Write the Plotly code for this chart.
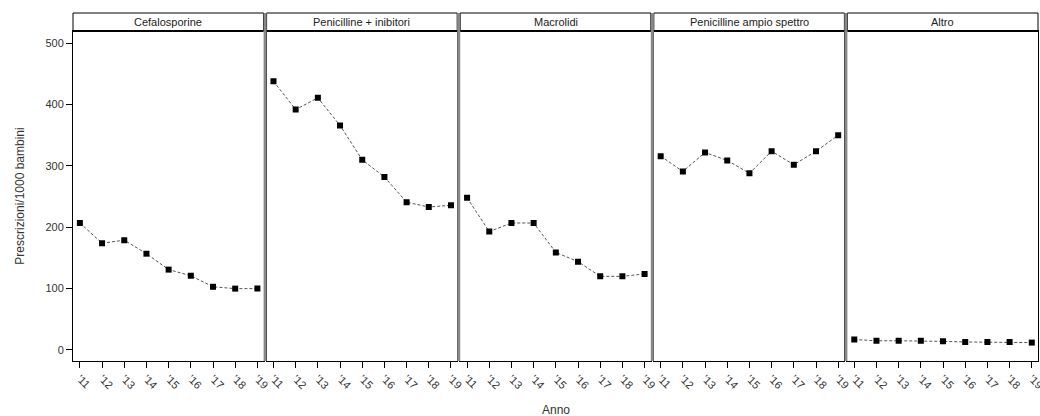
import plotly.graph_objects as go
from plotly.subplots import make_subplots

anni = [2011, 2012, 2013, 2014, 2015, 2016, 2017, 2018, 2019]
etichette_anni = ["'11", "'12", "'13", "'14", "'15", "'16", "'17", "'18", "'19"]

categorie = [
    'Cefalosporine',
    'Penicilline + inibitori',
    'Macrolidi',
    'Penicilline ampio spettro',
    'Altro',
]

cefalosporine = [207, 174, 179, 157, 131, 121, 103, 100, 100]
penicilline_inibitori = [438, 392, 411, 366, 310, 282, 241, 233, 236]
macrolidi = [248, 193, 207, 207, 159, 144, 120, 120, 124]
penicilline_ampio = [316, 291, 322, 309, 288, 324, 302, 324, 350]
altro = [17, 15, 15, 15, 14, 13, 13, 13, 12]

serie = [cefalosporine, penicilline_inibitori, macrolidi, penicilline_ampio, altro]

fig = make_subplots(rows=1, cols=5, shared_yaxes=True, horizontal_spacing=3 / 965)

for i, valori in enumerate(serie):
    fig.add_trace(
        go.Scatter(
            x=anni,
            y=valori,
            mode='lines+markers',
            line=dict(color='#555555', width=1, dash='3px,2px'),
            marker=dict(symbol='square', size=6, color='black'),
            showlegend=False,
        ),
        row=1, col=i + 1
    )

fig.update_xaxes(
    range=[2010.69, 2019.28],
    tickvals=anni,
    ticktext=etichette_anni,
    tickangle=45,
    ticks='outside',
    ticklen=6,
    tickcolor='black',
    showgrid=False,
    zeroline=False,
    showline=True,
    linecolor='black',
    linewidth=1,
    mirror=True,
    automargin=False,
    ticklabeloverflow='allow',
    tickfont=dict(size=11, color='#333333'),
)
fig.update_yaxes(
    range=[-18, 520],
    tickvals=[0, 100, 200, 300, 400, 500],
    showgrid=False,
    zeroline=False,
    showline=True,
    linecolor='black',
    linewidth=1,
    mirror=True,
    tickfont=dict(size=11, color='#333333'),
)
fig.update_yaxes(ticks='outside', ticklen=6, tickcolor='black', row=1, col=1)
fig.update_yaxes(
    title=dict(text='Prescrizioni/1000 bambini', font=dict(size=12, color='#333333'), standoff=18),
    automargin=False,
    row=1, col=1
)

# strisce di intestazione sopra ogni pannello
altezza_striscia = 18 / 330
for i, nome in enumerate(categorie):
    dominio = fig.layout['xaxis' + ('' if i == 0 else str(i + 1))].domain
    fig.add_shape(
        type='rect', xref='paper', yref='paper',
        x0=dominio[0], x1=dominio[1], y0=1, y1=1 + altezza_striscia,
        line=dict(color='black', width=1), fillcolor='white'
    )
    fig.add_shape(
        type='line', xref='paper', yref='paper',
        x0=dominio[0], x1=dominio[1], y0=1, y1=1,
        line=dict(color='black', width=2)
    )
    fig.add_annotation(
        x=(dominio[0] + dominio[1]) / 2, y=1 + altezza_striscia / 2,
        xref='paper', yref='paper', text=nome, showarrow=False,
        font=dict(size=11, color='#222222'), xanchor='center', yanchor='middle'
    )
    if i > 0:
        prec = fig.layout['xaxis' + ('' if i == 1 else str(i))].domain
        fig.add_shape(
            type='rect', xref='paper', yref='paper',
            x0=prec[1], x1=dominio[0], y0=0, y1=1 + altezza_striscia,
            line=dict(width=0), fillcolor='#888888', layer='above'
        )

fig.add_annotation(
    x=0.5, y=-0.12, xref='paper', yref='paper', text='Anno', showarrow=False,
    font=dict(size=12, color='#333333'), xanchor='center', yanchor='top'
)

fig.update_layout(
    width=1040,
    height=416,
    margin=dict(l=73, r=2, t=31, b=55),
    plot_bgcolor='white',
    paper_bgcolor='white',
    font=dict(family='Liberation Sans, Arial, sans-serif', size=11, color='#333333'),
)

fig.write_html(
    'out.html',
    config=dict(displayModeBar=False),
    post_script="document.body.style.margin='0';document.body.style.overflow='hidden';"
)
